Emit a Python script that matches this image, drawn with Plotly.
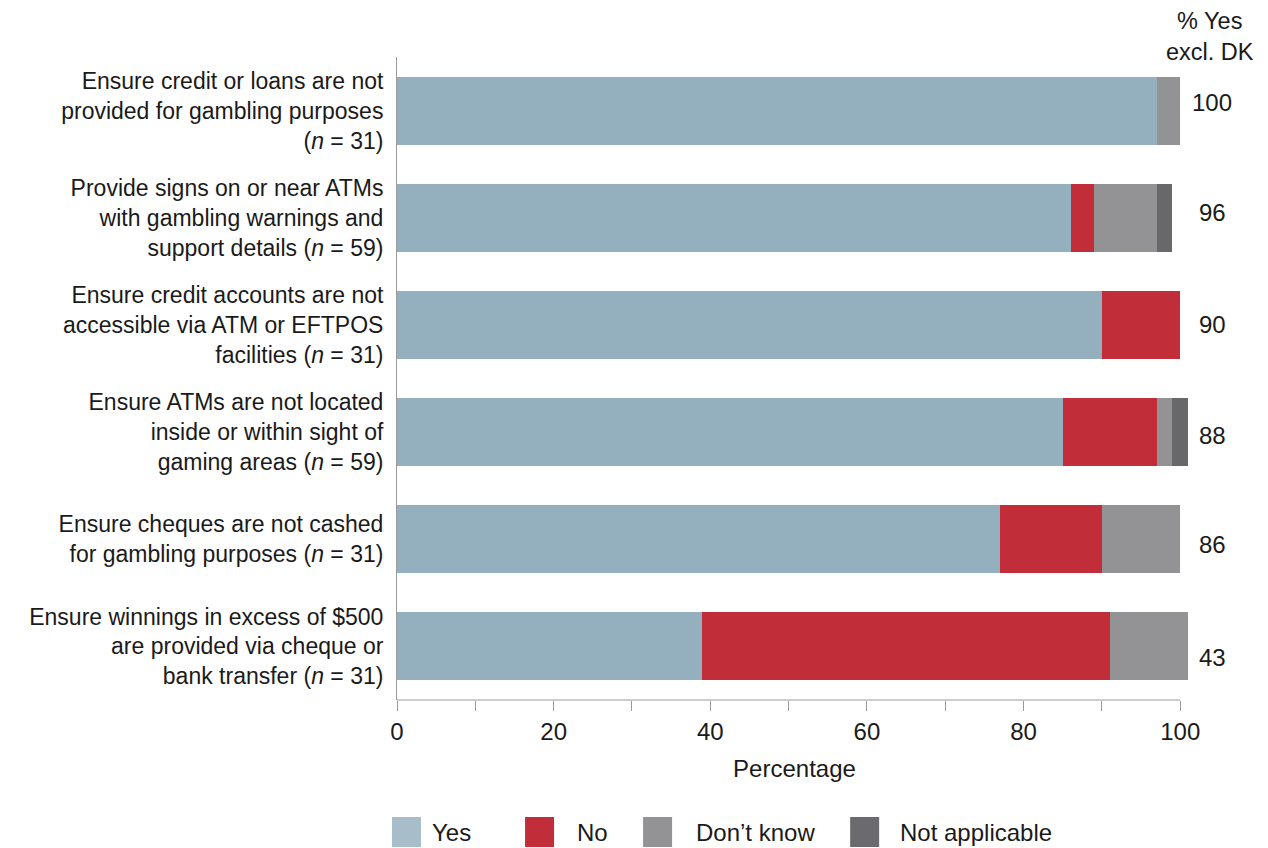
import plotly.graph_objects as go

categories = [
    "Ensure credit or loans are not<br>provided for gambling purposes<br>(<i>n</i> = 31)",
    "Provide signs on or near ATMs<br>with gambling warnings and<br>support details (<i>n</i> = 59)",
    "Ensure credit accounts are not<br>accessible via ATM or EFTPOS<br>facilities (<i>n</i> = 31)",
    "Ensure ATMs are not located<br>inside or within sight of<br>gaming areas (<i>n</i> = 59)",
    "Ensure cheques are not cashed<br>for gambling purposes (<i>n</i> = 31)",
    "Ensure winnings in excess of $500<br>are provided via cheque or<br>bank transfer (<i>n</i> = 31)",
]
yes = [97, 86, 90, 85, 77, 39]
no = [0, 3, 10, 12, 13, 52]
dont_know = [3, 8, 0, 2, 10, 10]
not_applicable = [0, 2, 0, 2, 0, 0]
pct_yes_excl_dk = ["100", "96", "90", "88", "86", "43"]
series_names = ["Yes", "No", "Don’t know", "Not applicable"]
x_ticks = [0, 20, 40, 60, 80, 100]

# styling
bar_colors = ["#94AFBD", "#C12E39", "#939396", "#68686B"]
legend_colors = ["#A8BDCA", "#C12E39", "#939396", "#6B6B6F"]
label_yshift = [8, 5, 0, -3, -5, -11]
FONT = "Liberation Sans, Arial, Helvetica, sans-serif"
TXT = "#1a1a1a"
AXC = "#9a9a9a"

OFF = 8  # page body margin
W, H = 1268 - OFF, 848 - OFF
XMAX = 101.5
SL, ST, SB = 397, 57, 700            # screen pixels
SR = SL + 7.83 * XMAX

def px(xpix):
    return (xpix - SL) / (SR - SL)

def py(ypix):
    return (SB - ypix) / (SB - ST)

fig = go.Figure()
for name, vals, col in zip(series_names, [yes, no, dont_know, not_applicable], bar_colors):
    fig.add_trace(go.Bar(
        y=categories, x=vals, name=name, orientation="h",
        marker=dict(color=col, line=dict(width=0)),
        width=0.635, showlegend=False,
    ))

annotations = []
for cat, val, ys in zip(categories, pct_yes_excl_dk, label_yshift):
    annotations.append(dict(
        x=px(1212), xref="paper", y=cat, yref="y", text=val, showarrow=False,
        xanchor="center", yanchor="middle", yshift=ys,
        font=dict(family=FONT, size=24, color=TXT),
    ))
annotations.append(dict(
    x=px(1210), xref="paper", y=py(36), yref="paper", text="% Yes<br>excl. DK",
    showarrow=False, xanchor="center", yanchor="middle", align="center",
    font=dict(family=FONT, size=23.5, color=TXT),
))

shapes = [dict(type="line", xref="x", yref="paper", x0=0, x1=100, y0=0, y1=0,
               line=dict(color=AXC, width=1))]
legend_x = [(392, 430), (525, 575), (643, 694), (850, 898)]
for (sx, tx), name, col in zip(legend_x, series_names, legend_colors):
    shapes.append(dict(
        type="rect", xref="paper", yref="paper",
        x0=px(sx), x1=px(sx + 29), y0=py(847), y1=py(817),
        fillcolor=col, line=dict(width=0),
    ))
    annotations.append(dict(
        x=px(tx), xref="paper", y=py(832), yref="paper", text=name, showarrow=False,
        xanchor="left", yanchor="middle", font=dict(family=FONT, size=24, color=TXT),
    ))

fig.update_layout(
    width=W, height=H,
    margin=dict(l=SL - OFF, r=W - (SR - OFF), t=ST - OFF, b=H - (SB - OFF), pad=0),
    barmode="stack",
    plot_bgcolor="white", paper_bgcolor="white",
    font=dict(family=FONT, size=24, color=TXT),
    showlegend=False,
    annotations=annotations,
    shapes=shapes,
)
fig.update_xaxes(
    range=[0, XMAX], tickvals=list(range(0, 101, 10)),
    ticktext=[str(v) if v in x_ticks else "" for v in range(0, 101, 10)],
    ticks="outside", ticklen=10, tickcolor=AXC, tickwidth=1,
    showline=False, showgrid=False, zeroline=False,
    tickfont=dict(family=FONT, size=24, color=TXT),
    title=dict(text="Percentage", font=dict(family=FONT, size=24, color=TXT), standoff=16),
    fixedrange=True,
)
fig.update_yaxes(
    categoryorder="array", categoryarray=categories, autorange="reversed",
    showline=True, linecolor=AXC, linewidth=1,
    ticks="", showgrid=False, zeroline=False,
    ticklabelstandoff=8,
    tickfont=dict(family=FONT, size=23, color=TXT),
    fixedrange=True,
)

fig.write_html("out.html")
